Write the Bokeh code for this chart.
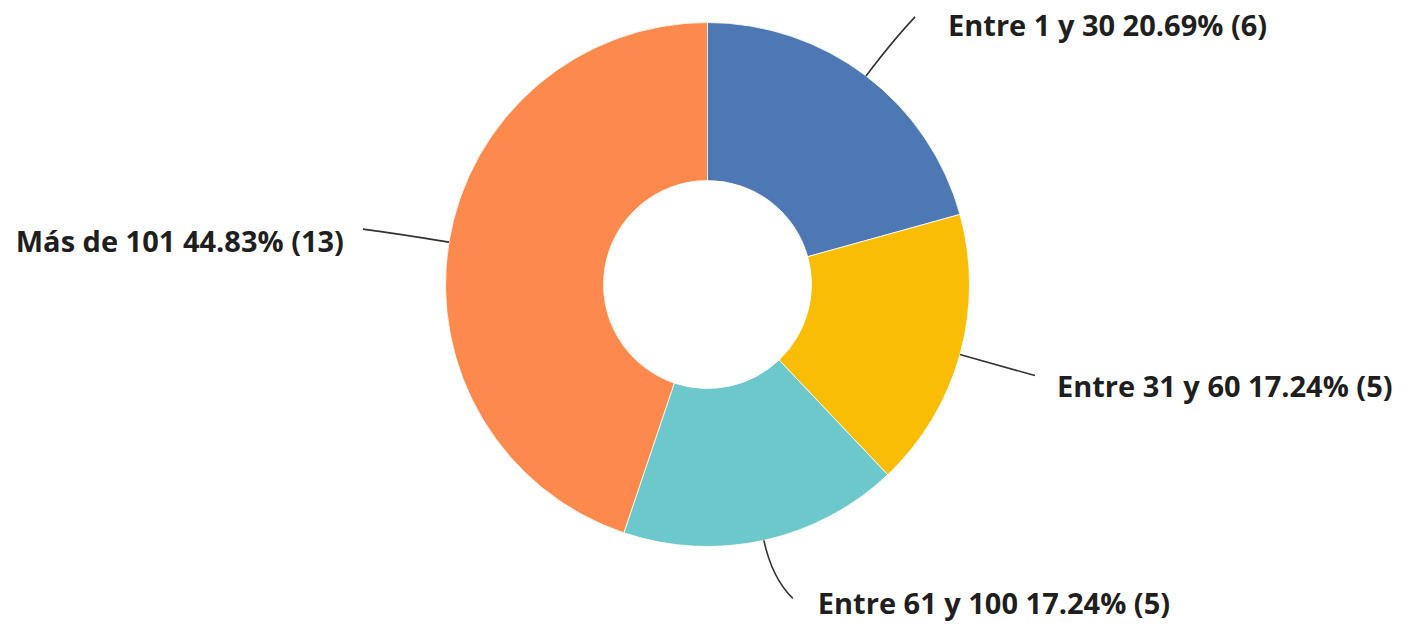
import math
from bokeh.plotting import figure
from bokeh.models import Range1d
from bokeh.core.properties import value
from bokeh.embed import file_html
from bokeh.resources import INLINE

# ---- data ----
categories = ["Entre 1 y 30", "Entre 31 y 60", "Entre 61 y 100", "Más de 101"]
counts = [6, 5, 5, 13]
percents = ["20.69%", "17.24%", "17.24%", "44.83%"]
colors = ["#4d78b4", "#f9bd06", "#6cc8ca", "#fd8a4c"]

# ---- layout (picture pixel coordinates, y down) ----
W, H = 1403, 624
CX, CY = 707, 284          # donut centre
R_OUT, R_IN = 262, 104
# leader end offset from the anchor on the outer rim (screen px, y down)
leader_end = [(49, -59), (75, 21), (29, 58), (-86, -13)]
# text offset from leader end
text_off = [(33, 8), (22, 10), (25, 4), (-19, 11)]
text_align = ["left", "left", "left", "right"]


def X(xi):
    return xi


def Y(yi):
    return H - yi


p = figure(width=W, height=H, output_backend="svg", toolbar_location=None,
           x_range=Range1d(0, W), y_range=Range1d(0, H), min_border=0)
p.axis.visible = False
p.grid.visible = False
p.outline_line_color = None
p.background_fill_color = "white"
p.border_fill_color = "white"

total = sum(counts)
start = math.pi / 2
starts, ends, mids = [], [], []
cum = 0
for c in counts:
    a0 = start - 2 * math.pi * cum / total
    cum += c
    a1 = start - 2 * math.pi * cum / total
    starts.append(a0)
    ends.append(a1)
    mids.append((a0 + a1) / 2)

p.annular_wedge(x=[X(CX)] * len(counts), y=[Y(CY)] * len(counts),
                inner_radius=R_IN, outer_radius=R_OUT,
                start_angle=starts, end_angle=ends, direction="clock",
                fill_color=colors, line_color="white", line_width=0.8)

for i, cat in enumerate(categories):
    m = mids[i]
    ux, uy = math.cos(m), -math.sin(m)  # screen direction (y down)
    ax, ay = CX + R_OUT * ux, CY + R_OUT * uy
    ex, ey = ax + leader_end[i][0], ay + leader_end[i][1]
    d = math.hypot(leader_end[i][0], leader_end[i][1])
    cx, cy = ax + ux * 0.6 * d, ay + uy * 0.6 * d
    p.quadratic(x0=[X(ax)], y0=[Y(ay)], x1=[X(ex)], y1=[Y(ey)],
                cx=[X(cx)], cy=[Y(cy)], line_color="#333333", line_width=1.6)
    tx, ty = ex + text_off[i][0], ey + text_off[i][1]
    label = f"{cat} {percents[i]} ({counts[i]})"
    p.text(x=[X(tx)], y=[Y(ty)], text=[label], text_align=text_align[i],
           text_baseline="middle", text_font=value("Open Sans"),
           text_font_style="bold", text_font_size="29px", text_color="#1f1f1f")

open("out.html", "w").write(file_html(p, INLINE))
